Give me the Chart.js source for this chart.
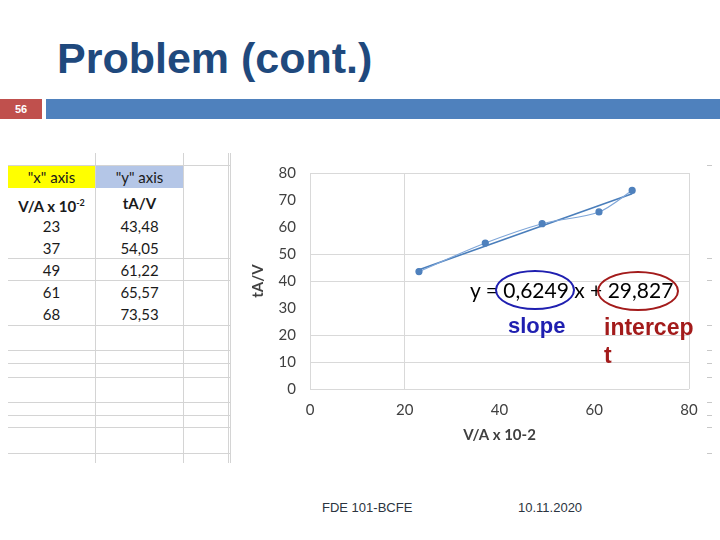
<!DOCTYPE html>
<html>
<head>
<meta charset="utf-8">
<script src="https://cdn.jsdelivr.net/npm/chart.js@4.4.1/dist/chart.umd.min.js"></script>
<style>
  body { margin: 0; background: #fff; }
  #slide { position: relative; width: 720px; height: 540px; overflow: hidden; background: #fff; font-family: "Liberation Sans", Arial, sans-serif; }
  .abs { position: absolute; white-space: nowrap; }
  .cell { position: absolute; text-align: center; font-family: Lato, "Noto Sans", sans-serif; font-size: 15px; color: #1a1a1a; line-height: 22px; }
  .hl { position: absolute; height: 1px; background: #d4d4d4; }
  .vl { position: absolute; width: 1px; background: #d4d4d4; }
  .dash { position: absolute; width: 5px; height: 1px; background: #c8c8c8; left: 707px; }
  .ell { position: absolute; border-radius: 50%; box-sizing: border-box; }
</style>
</head>
<body>
<div id="slide">
  <div class="abs" style="left:57px; top:37px; font-size:43px; line-height:43px; font-weight:bold; color:#1f497d;">Problem (cont.)</div>
  <div class="abs" style="left:0; top:99px; width:42px; height:20px; background:#c0504d; color:#fff; font-size:11px; font-weight:bold; line-height:20px; text-align:center;">56</div>
  <div class="abs" style="left:46px; top:99px; width:674px; height:20px; background:#4f81bd;"></div>

  <div id="sheet"></div>

  <div class="abs" style="left:240px; top:150px; width:475px; height:300px;">
    <canvas id="chart"></canvas>
  </div>

  <div class="abs" style="left:470px; top:277px; font-family:Lato, sans-serif; font-size:21px; line-height:26px; color:#000;">y = 0,6249 x + 29,827</div>
  <div class="ell" style="left:495px; top:270px; width:80px; height:40px; border:2.5px solid #1f1fb0;"></div>
  <div class="ell" style="left:597px; top:271px; width:82px; height:40px; border:2.5px solid #a31b1b;"></div>
  <div class="abs" style="left:508px; top:314px; font-size:22px; line-height:24px; font-weight:bold; color:#1f1fb0;">slope</div>
  <div class="abs" style="left:604px; top:313px; font-size:23px; line-height:28px; font-weight:bold; color:#a31b1b;">intercep<br>t</div>

  <div class="abs" style="left:322px; top:500px; font-size:13px; color:#2b3440;">FDE 101-BCFE</div>
  <div class="abs" style="left:518px; top:500px; font-size:13px; color:#2b3440;">10.11.2020</div>
</div>

<script>
// table / chart data
const xLabel = "V/A x 10";
const yLabel = "tA/V";
const xValues = [23, 37, 49, 61, 68];
const yValues = [43.48, 54.05, 61.22, 65.57, 73.53];
const yText = ["43,48", "54,05", "61,22", "65,57", "73,53"];
// trendline ends (y = 0,6249 x + 29,827)
const trendX = [23, 68];
const trendY = [44.2, 72.3];
const xTicks = [0, 20, 40, 60, 80];
const yTicks = [0, 10, 20, 30, 40, 50, 60, 70, 80];

// spreadsheet on the left
const sheet = document.getElementById("sheet");
const add = (cls, style, html) => {
  const d = document.createElement("div");
  d.className = cls;
  d.style.cssText = style;
  if (html) d.innerHTML = html;
  sheet.appendChild(d);
};
[165, 258, 280, 325, 350, 363, 377, 402, 415, 427, 453].forEach((y) => {
  add("hl", `left:8px; width:222px; top:${y}px;`);
  add("dash", `top:${y}px;`);
});
[95, 183, 228, 230].forEach((x) => add("vl", `left:${x}px; top:153px; height:310px;`));
add("cell", "left:8px; top:166px; width:87px; height:22px; background:#ffff00;", '"x" axis');
add("cell", "left:96px; top:166px; width:87px; height:22px; background:#b4c6e7;", '"y" axis');
add("cell", "left:8px; top:192px; width:87px; font-weight:bold;", xLabel + "<sup style='font-size:9px'>-2</sup>");
add("cell", "left:96px; top:192px; width:87px; font-weight:bold;", yLabel);
xValues.forEach((v, i) => {
  add("cell", `left:8px; top:${215 + i * 22}px; width:87px;`, String(v));
  add("cell", `left:96px; top:${215 + i * 22}px; width:87px;`, yText[i]);
});

const points = xValues.map((x, i) => ({ x: x, y: yValues[i] }));
const trend = trendX.map((x, i) => ({ x: x, y: trendY[i] }));

const hiddenYGrid = [30, 60, 70];
const shownXGrid = [0, 20, 80];
const tickFont = { family: "Lato", size: 15 };

new Chart(document.getElementById("chart"), {
  type: "scatter",
  data: {
    datasets: [
      {
        data: points,
        showLine: true,
        tension: 0.3,
        borderColor: "#7fa6d8",
        borderWidth: 1.2,
        pointRadius: 3,
        pointBackgroundColor: "#4f81bd",
        pointBorderColor: "#4f81bd",
      },
      {
        data: trend,
        showLine: true,
        borderColor: "#4a7ebb",
        borderWidth: 1.6,
        pointRadius: 0,
      },
    ],
  },
  options: {
    responsive: true,
    maintainAspectRatio: false,
    animation: false,
    layout: { padding: { top: 18, right: 26, left: 0, bottom: 0 } },
    plugins: { legend: { display: false }, tooltip: { enabled: false } },
    scales: {
      x: {
        type: "linear",
        min: 0,
        max: 80,
        afterBuildTicks: (s) => { s.ticks = xTicks.map((v) => ({ value: v })); },
        afterFit: (s) => { s.height = 61; },
        border: { display: false },
        grid: {
          drawTicks: false,
          color: (c) => (shownXGrid.includes(c.tick.value) ? "#d9d9d9" : "rgba(0,0,0,0)"),
        },
        ticks: { padding: 12, color: "#404040", font: tickFont },
        title: {
          display: true,
          text: "V/A x 10-2",
          color: "#404040",
          font: { family: "Lato", size: 15, weight: "bold" },
          padding: { top: 6, bottom: 6 },
        },
      },
      y: {
        min: 0,
        max: 80,
        afterBuildTicks: (s) => { s.ticks = yTicks.map((v) => ({ value: v })); },
        afterFit: (s) => { s.width = 70; },
        border: { display: false },
        grid: {
          drawTicks: false,
          color: (c) => (hiddenYGrid.includes(c.tick.value) ? "rgba(0,0,0,0)" : "#d9d9d9"),
        },
        ticks: { padding: 14, color: "#404040", font: tickFont },
        title: {
          display: true,
          text: yLabel,
          color: "#404040",
          font: { family: "Lato", size: 15, weight: "bold" },
          padding: { top: 9, bottom: 0 },
        },
      },
    },
  },
});
</script>
</body>
</html>
